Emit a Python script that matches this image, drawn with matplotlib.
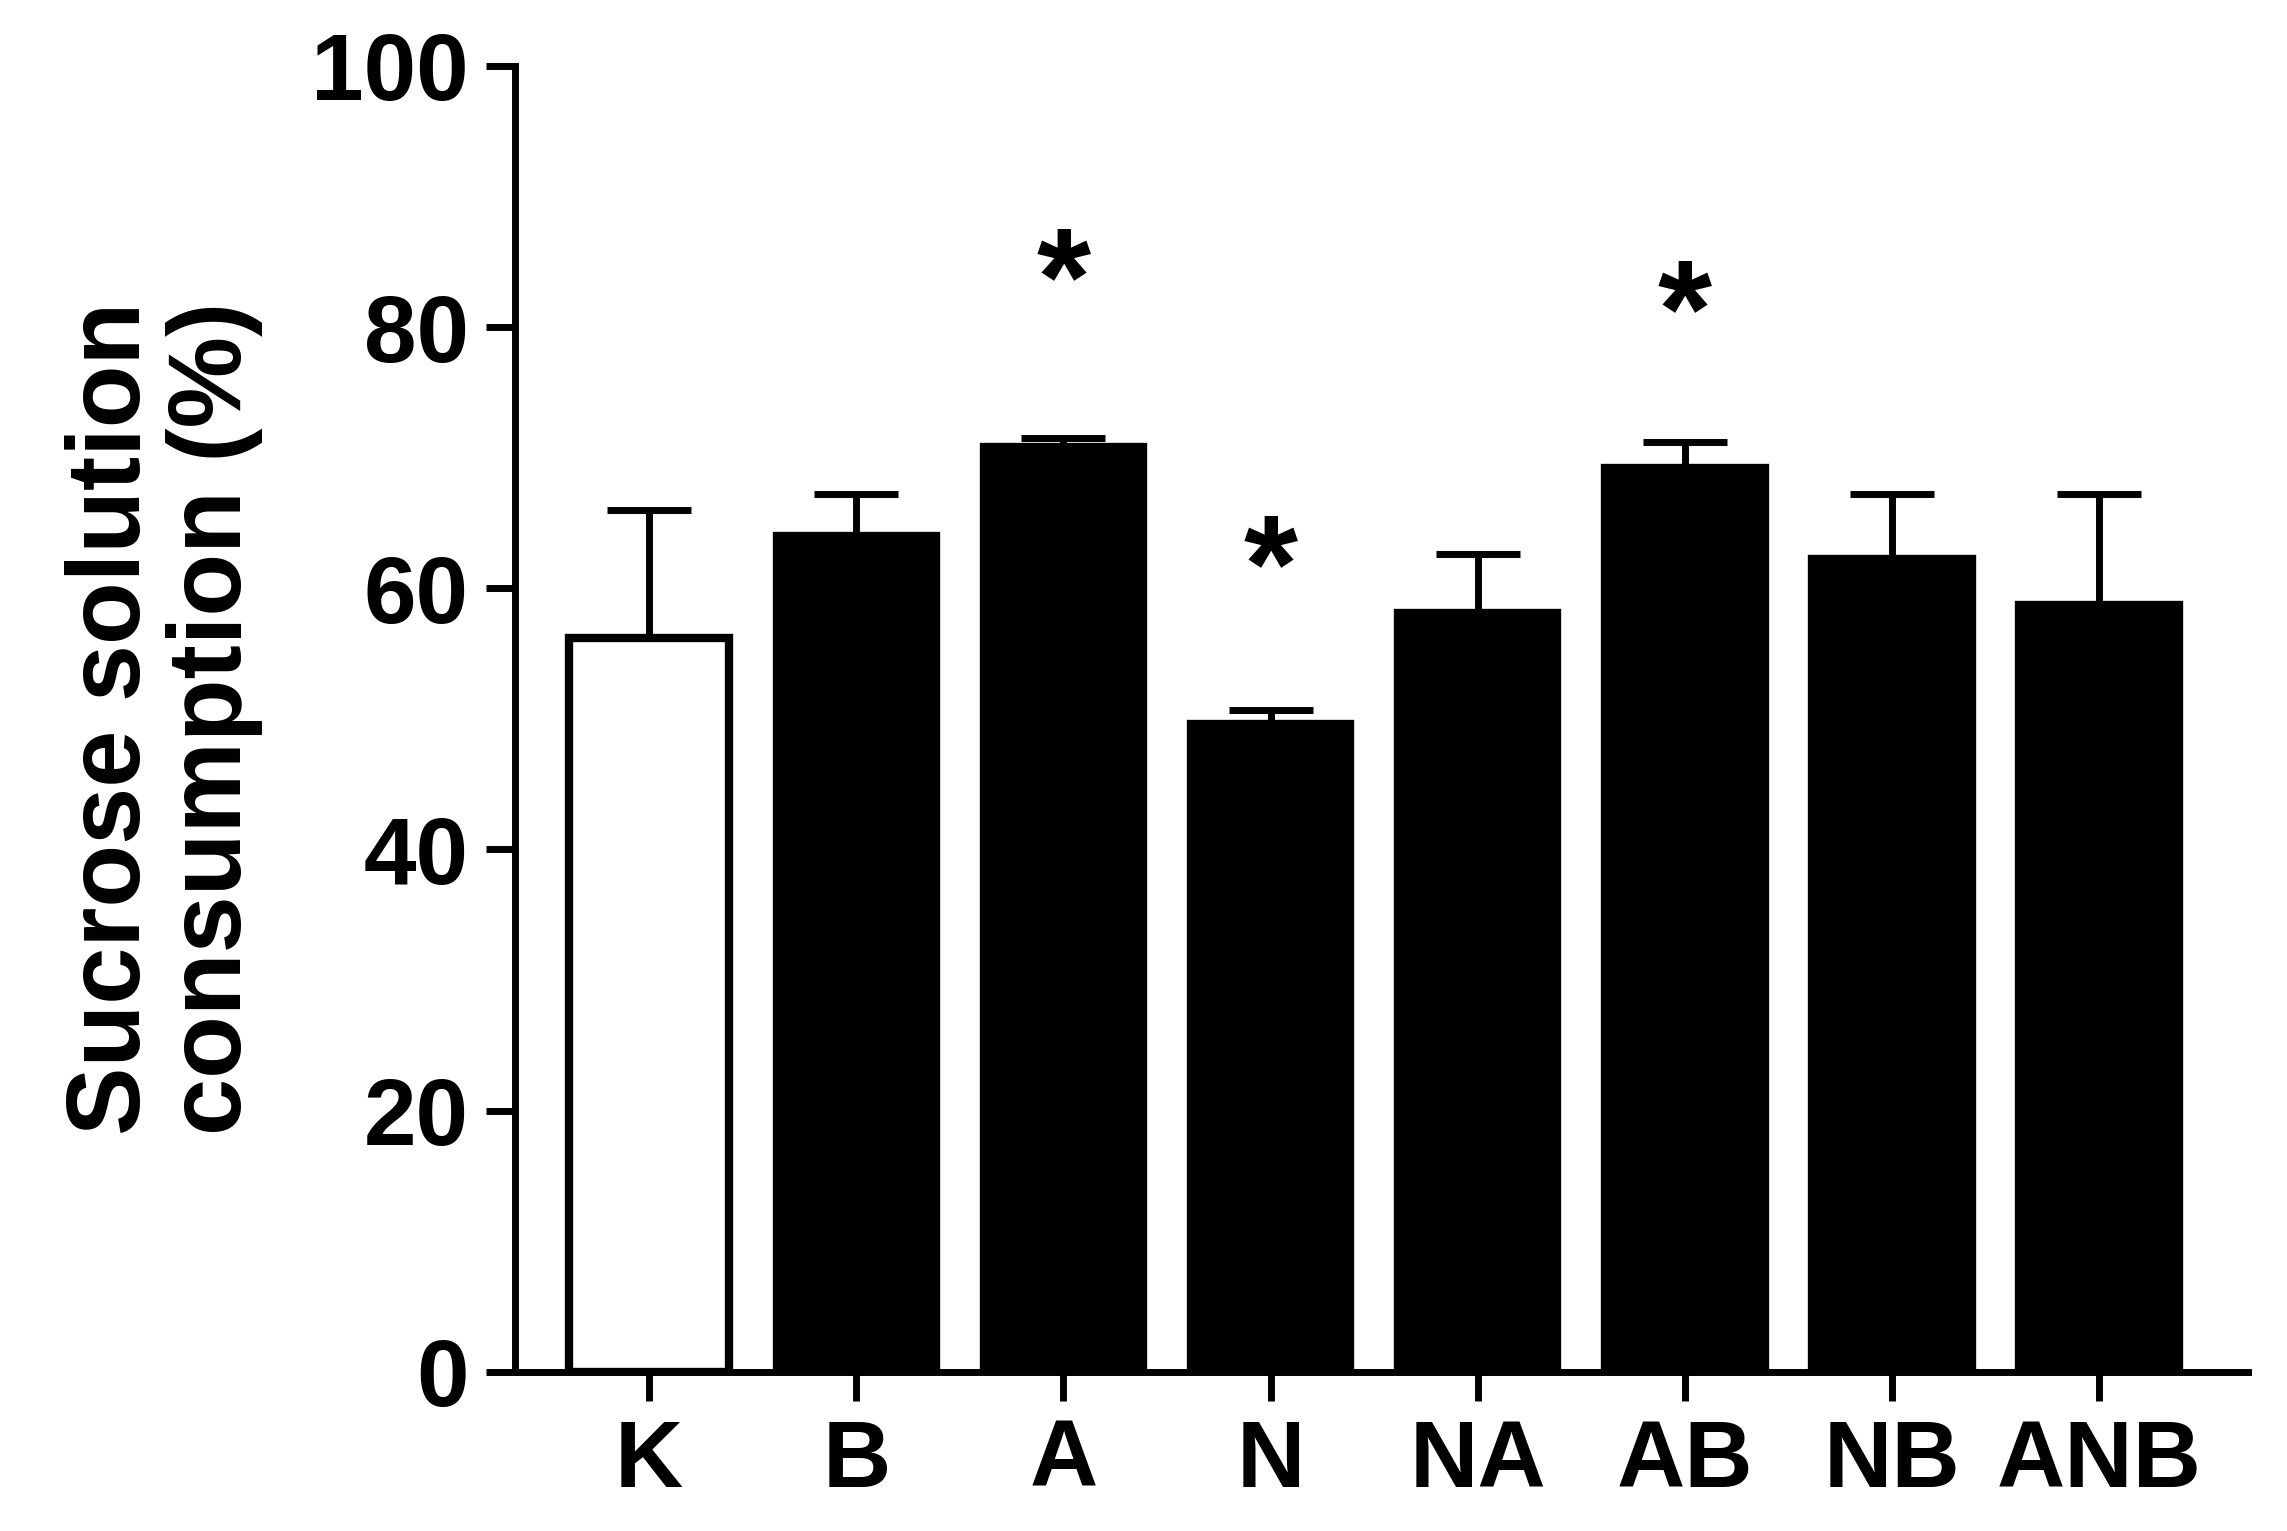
import matplotlib
matplotlib.use("Agg")
import matplotlib.pyplot as plt

categories = ["K", "B", "A", "N", "NA", "AB", "NB", "ANB"]
means = [56.2, 64.0, 70.8, 49.6, 58.1, 69.2, 62.2, 58.7]
errors = [9.8, 3.2, 0.7, 1.1, 4.5, 2.0, 5.0, 8.5]
star_y = {"A": 83, "N": 61, "AB": 80.5}

plt.rcParams['font.family'] = ['Liberation Sans', 'DejaVu Sans']
plt.rcParams['font.weight'] = 'bold'

fig = plt.figure(figsize=(22.87, 15.31), dpi=100)
ax = fig.add_axes([0.225, 0.104, 0.758, 0.853])
x = list(range(len(categories)))
faces = ["white"] + ["black"] * (len(categories) - 1)
ax.bar(x, means, width=0.77, color=faces, edgecolor="black", linewidth=6, zorder=3)
ax.errorbar(x, means, yerr=[[0]*len(errors), errors], fmt="none", ecolor="black",
            elinewidth=5, capsize=30, capthick=5, zorder=2)
for c, y in star_y.items():
    i = categories.index(c)
    ax.text(i, y, "*", ha="center", va="center", fontsize=100, fontweight="bold")

ax.set_xlim(-0.65, 7.72)
ax.set_ylim(0, 100)
ax.set_yticks(range(0, 101, 20))
ax.set_xticks(x)
ax.set_xticklabels(categories)
for s in ["top", "right"]:
    ax.spines[s].set_visible(False)
for s in ["left", "bottom"]:
    ax.spines[s].set_linewidth(5)
ax.tick_params(axis="both", width=5, length=21, labelsize=68, pad=12)
for lbl in ax.get_xticklabels() + ax.get_yticklabels():
    lbl.set_fontweight("bold")
ax.set_ylabel("Sucrose solution\nconsumption (%)", fontsize=74, fontweight="bold", labelpad=35, linespacing=1.05)
fig.savefig("out.png", dpi=100)
